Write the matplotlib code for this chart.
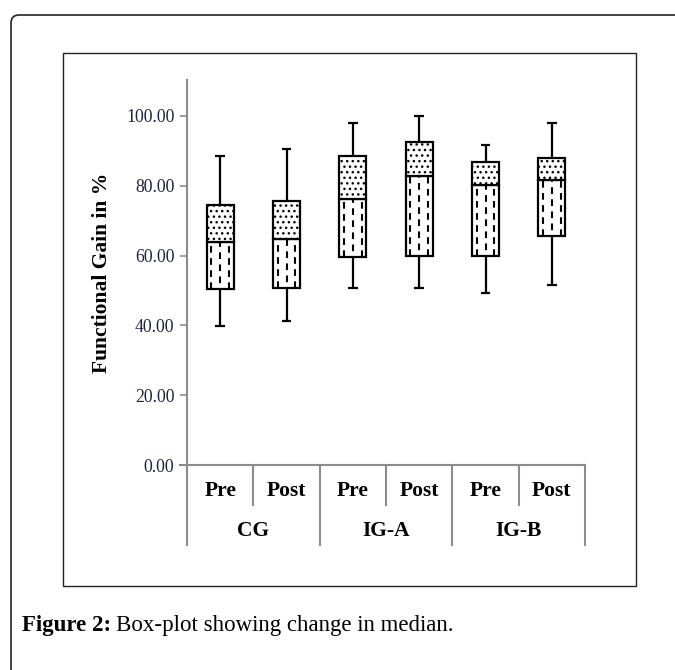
import matplotlib
matplotlib.use("Agg")
import matplotlib.pyplot as plt
from matplotlib.patches import FancyBboxPatch, Rectangle
from matplotlib.lines import Line2D

# box-plot values
groups = ["CG", "IG-A", "IG-B"]
phases = ["Pre", "Post"]
whisker_low = [39.8, 41.3, 50.8, 50.8, 49.4, 51.5]
q1 = [50.5, 50.7, 59.5, 59.9, 59.9, 65.7]
median = [63.9, 64.7, 76.2, 82.8, 80.1, 81.6]
q3 = [74.5, 75.7, 88.6, 92.5, 86.8, 87.9]
whisker_high = [88.5, 90.5, 98.1, 100.0, 91.6, 98.1]
yticks = [0, 20, 40, 60, 80, 100]

W, H = 675, 670
fig = plt.figure(figsize=(W / 100, H / 100), dpi=100)

serif = ["Liberation Serif", "DejaVu Serif"]
grey = "#8c8c8c"
navy = "#1c2541"

# outer frame (rounded, cut by the right edge) and inner chart frame
fig.patches.append(FancyBboxPatch((11 / W, -0.1), 1.2, 1 - 15 / H + 0.1,
                                  boxstyle="round,pad=0,rounding_size=0.012",
                                  transform=fig.transFigure, fill=False,
                                  edgecolor="#222222", linewidth=1.2))
fig.patches.append(Rectangle((63 / W, 1 - 586 / H), (636 - 63) / W, (586 - 53) / H,
                             transform=fig.transFigure, fill=False,
                             edgecolor="#222222", linewidth=1.0))

ax = fig.add_axes([187 / W, 1 - 465 / H, 398 / W, 385 / H])
ax.set_xlim(0, 6)
ax.set_ylim(0, 110.3)
for s in ["top", "right", "bottom", "left"]:
    ax.spines[s].set_visible(False)

n = len(q1)
xs = [i + 0.5 for i in range(n)]
bw = 0.41
lw = 1.6

for i in range(n):
    x = xs[i]
    # lower half (Q1 - median): vertical dashes
    ax.bar(x, median[i] - q1[i], bottom=q1[i], width=bw, color="white",
           edgecolor="black", linewidth=lw, zorder=2)
    for k, dx in enumerate([-0.32, 0.0, 0.32]):
        off = 0 if k != 1 else 3
        ax.plot([x + dx * bw, x + dx * bw], [q1[i], median[i]], color="black",
                linewidth=1.5, linestyle=(off, (3.2, 2.6)), zorder=3,
                solid_capstyle="butt", dash_capstyle="butt")
    # upper half (median - Q3): dotted
    ax.bar(x, q3[i] - median[i], bottom=median[i], width=bw, color="white",
           edgecolor="black", linewidth=lw, hatch="...", zorder=2)
    # whiskers and caps
    ax.vlines(x, q3[i], whisker_high[i], color="black", linewidth=lw, zorder=1)
    ax.vlines(x, whisker_low[i], q1[i], color="black", linewidth=lw, zorder=1)
    ax.hlines([whisker_high[i], whisker_low[i]], x - 0.075, x + 0.075,
              color="black", linewidth=lw, zorder=1)

# axes lines
ax.set_yticks(yticks)
ax.set_yticklabels([f"{v:.2f}" for v in yticks], family=serif, fontsize=12.8, color=navy)
ax.tick_params(axis="y", direction="out", length=5, width=1.2, color=grey, pad=4)
ax.set_xticks([])
ax.set_ylabel("Functional Gain in %", family=serif, fontsize=15.5, fontweight="bold",
              labelpad=10)

tr = ax.transAxes
ax.add_line(Line2D([0, 0], [-0.208, 1.0], transform=tr, color=grey, linewidth=1.5,
                   clip_on=False))
ax.add_line(Line2D([-0.018, 1.0], [0, 0], transform=tr, color=grey, linewidth=1.5,
                   clip_on=False))
dtr = ax.get_xaxis_transform()
for i in range(1, n + 1):
    bottom = -0.208 if i % 2 == 0 else -0.104
    ax.add_line(Line2D([i, i], [0, bottom], transform=dtr, color=grey, linewidth=1.5,
                       clip_on=False))

for i in range(n):
    ax.text(xs[i], -0.068, phases[i % 2], transform=dtr, ha="center", va="center",
            family=serif, fontsize=15.5, fontweight="bold")
for g, name in enumerate(groups):
    ax.text(2 * g + 1, -0.172, name, transform=dtr, ha="center", va="center",
            family=serif, fontsize=15.5, fontweight="bold")

# caption
t1 = fig.text(22 / W, 1 - 625 / H, "Figure 2:", family=serif, fontsize=16.5,
              fontweight="bold", va="center")
renderer = fig.canvas.get_renderer()
bb = t1.get_window_extent(renderer)
fig.text(bb.x1 / W + 5 / W, 1 - 625 / H, "Box-plot showing change in median.",
         family=serif, fontsize=16.5, va="center")

fig.savefig("out.png", dpi=100)
